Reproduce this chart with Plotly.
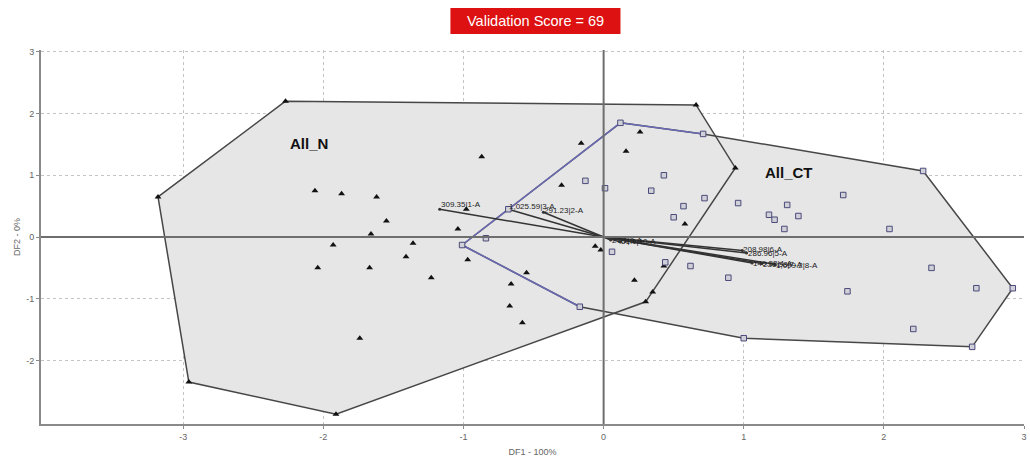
import plotly.graph_objects as go

# Group N observations (DF1, DF2)
n_x = [-2.27, 0.66, 0.94, 0.35, 0.30, -1.91, -2.96, -3.18, 0.26, -0.16, 0.16, 0.58, 0.43, 0.22,
       -0.87, -0.30, -0.98, -1.04, -0.97, -1.23, -0.55, -0.66, -0.67, -0.58, -1.74, -1.87, -1.62,
       -2.06, -1.55, -1.66, -1.36, -1.41, -1.67, -1.93, -2.04, -0.06, -0.02]
n_y = [2.20, 2.14, 1.12, -0.89, -1.05, -2.87, -2.35, 0.65, 1.70, 1.52, 1.39, 0.21, -0.47, -0.70,
       1.30, 0.84, 0.45, 0.13, -0.37, -0.66, -0.58, -0.76, -1.12, -1.39, -1.64, 0.70, 0.65,
       0.75, 0.26, 0.05, -0.10, -0.32, -0.50, -0.13, -0.50, -0.15, -0.21]

# Group CT observations (DF1, DF2)
ct_x = [0.12, 0.71, 2.28, 2.92, 2.63, 1.00, -0.17, -1.01, -0.84, -0.13, 0.43, 0.01, 0.34, 0.72,
        0.96, 0.57, 0.50, 1.18, 0.06, 0.44, 0.62, 0.89, 1.71, 1.31, 1.39, 1.22, 1.29, 2.04, 2.34,
        2.66, 1.74, 2.21, -0.68]
ct_y = [1.85, 1.67, 1.07, -0.83, -1.78, -1.64, -1.13, -0.13, -0.02, 0.91, 1.00, 0.79, 0.75, 0.63,
        0.55, 0.50, 0.32, 0.36, -0.24, -0.41, -0.47, -0.66, 0.68, 0.52, 0.34, 0.28, 0.13, 0.13, -0.50,
        -0.83, -0.88, -1.49, 0.45]

# Convex hull vertices of each group
hull_n_x = [-2.27, 0.66, 0.94, 0.30, -1.91, -2.96, -3.18]
hull_n_y = [2.20, 2.14, 1.12, -1.05, -2.87, -2.35, 0.65]
hull_ct_x = [0.12, 0.71, 2.28, 2.92, 2.63, 1.00, -0.17, -1.01]
hull_ct_y = [1.85, 1.67, 1.07, -0.83, -1.78, -1.64, -1.13, -0.13]
# part of the CT hull lying over the N region
ct_inner_idx = [6, 7, 0, 1]

# Variable loading vectors
vec_names = ["309.35|1-A", "1,025.59|3-A", "291.23|2-A", "208.98|6-A", "286.96|5-A",
             "149.33|4-A", "236.58|7-A", "1,099.2|8-A", "27.1|9-A", "61.1|10-A"]
vec_x = [-1.17, -0.68, -0.43, 0.99, 1.02, 1.06, 1.13, 1.22, 0.05, 0.12]
vec_y = [0.45, 0.45, 0.40, -0.22, -0.26, -0.42, -0.43, -0.44, -0.05, -0.08]
vec_label_shift = [5, 3, 2, 1, 0, -1, -1, -1, 0, 0]

x_ticks = [-3, -2, -1, 0, 1, 2, 3]
y_ticks = [-2, -1, 0, 1, 2, 3]

FILL = "#e6e6e6"
HULL_LINE = "#474747"
CT_LINE = "#6a6ab4"
FONT = "Liberation Sans, Arial"

fig = go.Figure()

# hull fills
fig.add_trace(go.Scatter(x=hull_n_x + hull_n_x[:1], y=hull_n_y + hull_n_y[:1], mode="lines",
                         fill="toself", fillcolor=FILL, line=dict(width=0), hoverinfo="skip"))
fig.add_trace(go.Scatter(x=hull_ct_x + hull_ct_x[:1], y=hull_ct_y + hull_ct_y[:1], mode="lines",
                         fill="toself", fillcolor=FILL, line=dict(width=0), hoverinfo="skip"))

# hull outlines
fig.add_trace(go.Scatter(x=hull_n_x + hull_n_x[:1], y=hull_n_y + hull_n_y[:1], mode="lines",
                         line=dict(color=HULL_LINE, width=1.5), hoverinfo="skip"))
fig.add_trace(go.Scatter(x=hull_ct_x + hull_ct_x[:1], y=hull_ct_y + hull_ct_y[:1], mode="lines",
                         line=dict(color=HULL_LINE, width=1.5), hoverinfo="skip"))
fig.add_trace(go.Scatter(x=[hull_ct_x[i] for i in ct_inner_idx], y=[hull_ct_y[i] for i in ct_inner_idx],
                         mode="lines", line=dict(color=CT_LINE, width=1.5), hoverinfo="skip"))

# loading vectors from the origin
for vx, vy in zip(vec_x, vec_y):
    fig.add_trace(go.Scatter(x=[0, vx], y=[0, vy], mode="lines",
                             line=dict(color="#333333", width=1.5), hoverinfo="skip"))
fig.add_trace(go.Scatter(x=vec_x, y=vec_y, mode="markers",
                         marker=dict(size=3, color="#333333"), hoverinfo="skip"))
for name, vx, vy, dy in zip(vec_names, vec_x, vec_y, vec_label_shift):
    fig.add_annotation(x=vx, y=vy, text=name, showarrow=False, xanchor="left", yanchor="middle",
                       yshift=dy, xshift=-1, font=dict(family=FONT, size=8, color="#222222"))

# observations
fig.add_trace(go.Scatter(x=n_x, y=n_y, mode="markers", name="All_N",
                         marker=dict(symbol="triangle-up", size=6, color="#111111")))
fig.add_trace(go.Scatter(x=ct_x, y=ct_y, mode="markers", name="All_CT",
                         marker=dict(symbol="square", size=5.5, color="#d0d0d8",
                                     line=dict(color="#4a4a7a", width=1))))

# group names
fig.add_annotation(x=-2.1, y=1.52, text="<b>All_N</b>", showarrow=False,
                   font=dict(family=FONT, size=15, color="#111111"))
fig.add_annotation(x=1.32, y=1.05, text="<b>All_CT</b>", showarrow=False,
                   font=dict(family=FONT, size=15, color="#111111"))

# score banner
fig.add_shape(type="rect", xref="paper", yref="paper", x0=0.4165, x1=0.5895, y0=1.043, y1=1.112,
              fillcolor="#dd1111", line=dict(width=0), layer="above")
fig.add_annotation(x=0.503, y=1.0775, xref="paper", yref="paper", yanchor="middle",
                   text="Validation Score = 69", showarrow=False,
                   font=dict(family=FONT, size=14.5, color="white"))

# zero axes drawn over the hull fills
fig.add_shape(type="line", xref="paper", x0=0, x1=1, yref="y", y0=0, y1=0,
              line=dict(color="#6e6e6e", width=2), layer="above")
fig.add_shape(type="line", yref="paper", y0=0, y1=1, xref="x", x0=0, x1=0,
              line=dict(color="#6e6e6e", width=2), layer="above")

axis_font = dict(family=FONT, size=9, color="#666666")
fig.update_layout(
    width=1030, height=459, showlegend=False,
    paper_bgcolor="white", plot_bgcolor="white",
    margin=dict(l=41, r=3, t=50, b=35),
    xaxis=dict(range=[-4.015, 3.0], tickvals=x_ticks, ticktext=[str(t) for t in x_ticks],
               showgrid=True, gridcolor="#c4c4c4", griddash="dot", gridwidth=1,
               zeroline=False, showline=True, linecolor="#8a8a8a", linewidth=2,
               ticks="outside", ticklen=3, tickcolor="#8a8a8a", tickfont=axis_font,
               title=dict(text="DF1 - 100%", font=axis_font, standoff=8)),
    yaxis=dict(range=[-3.03, 3.03], tickvals=y_ticks, ticktext=[str(t) for t in y_ticks],
               showgrid=True, gridcolor="#c4c4c4", griddash="dot", gridwidth=1,
               zeroline=False, showline=True, linecolor="#8a8a8a", linewidth=2,
               ticks="outside", ticklen=3, tickcolor="#8a8a8a", tickfont=axis_font,
               title=dict(text="DF2 - 0%", font=axis_font, standoff=4)),
)

fig.write_html("out.html")
